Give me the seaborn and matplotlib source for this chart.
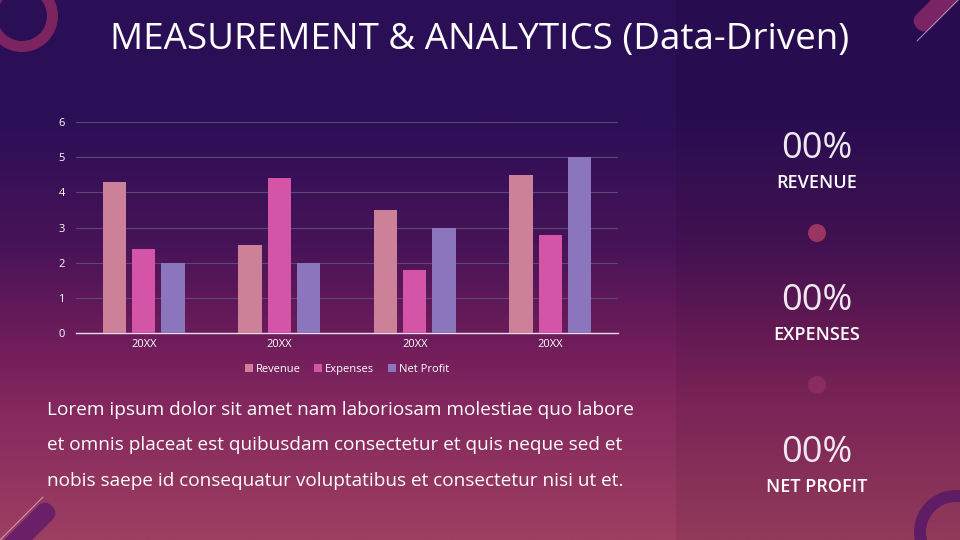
import numpy as np
import pandas as pd
import matplotlib.pyplot as plt
import seaborn as sns
from matplotlib.colors import LinearSegmentedColormap
from matplotlib.patches import Wedge, Circle, FancyBboxPatch, Rectangle
import matplotlib.transforms as mtransforms

# Chart data
years = ["20XX", "20XX ", "20XX  ", "20XX   "]
revenue = [4.3, 2.5, 3.5, 4.5]
expenses = [2.4, 4.4, 1.8, 2.8]
net_profit = [2.0, 2.0, 3.0, 5.0]
series_names = ["Revenue", "Expenses", "Net Profit"]
bar_colors = ["#cc8199", "#d455a8", "#8b76bd"]

stat_values = ["00%", "00%", "00%"]
stat_labels = ["REVENUE", "EXPENSES", "NET PROFIT"]

title = "MEASUREMENT & ANALYTICS (Data-Driven)"
body_lines = [
    "Lorem ipsum dolor sit amet nam laboriosam molestiae quo labore",
    "et omnis placeat est quibusdam consectetur et quis neque sed et",
    "nobis saepe id consequatur voluptatibus et consectetur nisi ut et.",
]

df = pd.DataFrame({
    "year": years * 3,
    "value": revenue + expenses + net_profit,
    "series": [s for s in series_names for _ in years],
})

sns.set_theme(style="white")
plt.rcParams["font.family"] = ["Open Sans", "DejaVu Sans"]

fig = plt.figure(figsize=(9.6, 5.4), dpi=100)

# Background gradient (pixel coordinate axes)
bg = fig.add_axes([0, 0, 1, 1])
bg.set_xlim(0, 960)
bg.set_ylim(540, 0)
bg.axis("off")
cmap = LinearSegmentedColormap.from_list(
    "bg", [(0, "#2a0f56"), (0.22, "#2c0f57"), (0.45, "#471358"),
           (0.62, "#6c1c5a"), (0.75, "#84275e"), (1.0, "#9d3f61")])
grad = np.linspace(0, 1, 256).reshape(-1, 1)
bg.imshow(grad, cmap=cmap, aspect="auto", extent=[0, 960, 540, 0], zorder=0)

# Right panel overlay
bg.add_patch(Rectangle((676, 0), 284, 540, color="black", alpha=0.07, lw=0, zorder=1))

# Decorations
bg.add_patch(Wedge((22, 16), 36, 0, 360, width=11, color="#7c2460", lw=0, zorder=2))
bg.add_patch(Wedge((956, 532), 42, 0, 360, width=12, color="#5e1c64", lw=0, zorder=2))
bg.add_patch(Circle((817, 233), 9, color="#9a3561", lw=0, zorder=2))
bg.add_patch(Circle((817, 385), 9, color="#8a2c64", lw=0, zorder=2))

def capsule(cx, cy, length, width, angle, color):
    p = FancyBboxPatch((cx, cy - width / 2), length, width,
                       boxstyle="round,pad=0,rounding_size=%f" % (width / 2),
                       color=color, lw=0, zorder=2)
    t = mtransforms.Affine2D().rotate_deg_around(cx, cy, angle) + bg.transData
    p.set_transform(t)
    bg.add_patch(p)

capsule(917, 28, 80, 20, -45, "#7a2463")
capsule(52, 506, 80, 20, 135, "#6a2068")
bg.plot([917, 960], [41, -2], color="#b090c8", lw=0.7, zorder=2)
bg.plot([43, -2], [497, 542], color="#d0a0c0", lw=0.7, zorder=2)

# Title
bg.text(480, 40, title, color="white", fontsize=26.5, ha="center", va="center", zorder=3)

# Body text
for i, line in enumerate(body_lines):
    bg.text(47, 410 + i * 35.5, line, color="white", fontsize=13.7,
            ha="left", va="center", zorder=3)

# Stats
for i, (v, lab) in enumerate(zip(stat_values, stat_labels)):
    y0 = 149 + i * 152
    bg.text(817, y0, v, color="#f0e8f0", fontsize=26, ha="center", va="center",
            zorder=3)
    bg.text(817, y0 + 34, lab, color="white", fontsize=13, ha="center",
            va="center", fontweight="semibold", zorder=3)

# Bar chart
ax = fig.add_axes([76 / 960, 1 - 333 / 540, 542 / 960, 211 / 540])
ax.patch.set_alpha(0)
sns.barplot(data=df, x="year", y="value", hue="series", palette=bar_colors,
            width=0.65, gap=0.2, saturation=1, linewidth=0, ax=ax, zorder=3)
ax.set_ylim(0, 6)
ax.set_yticks(range(0, 7))
ax.set_xlabel("")
ax.set_ylabel("")
ax.set_xticks(range(4))
ax.set_xticklabels([y.strip() for y in years])
ax.grid(axis="y", color="#5d4a72", lw=0.8, zorder=0)
for s in ["top", "right", "left"]:
    ax.spines[s].set_visible(False)
ax.spines["bottom"].set_color("#e8dcec")
ax.spines["bottom"].set_linewidth(1)
ax.tick_params(axis="both", colors="white", labelsize=8, length=0)
ax.tick_params(axis="y", pad=8)
ax.tick_params(axis="x", pad=4)
leg = ax.legend(loc="upper center", bbox_to_anchor=(0.5, -0.1), ncol=3,
                frameon=False, fontsize=8, handlelength=0.7, handleheight=0.7,
                handletextpad=0.3, columnspacing=1.2, labelcolor="white")

fig.savefig("out.png", dpi=100)
